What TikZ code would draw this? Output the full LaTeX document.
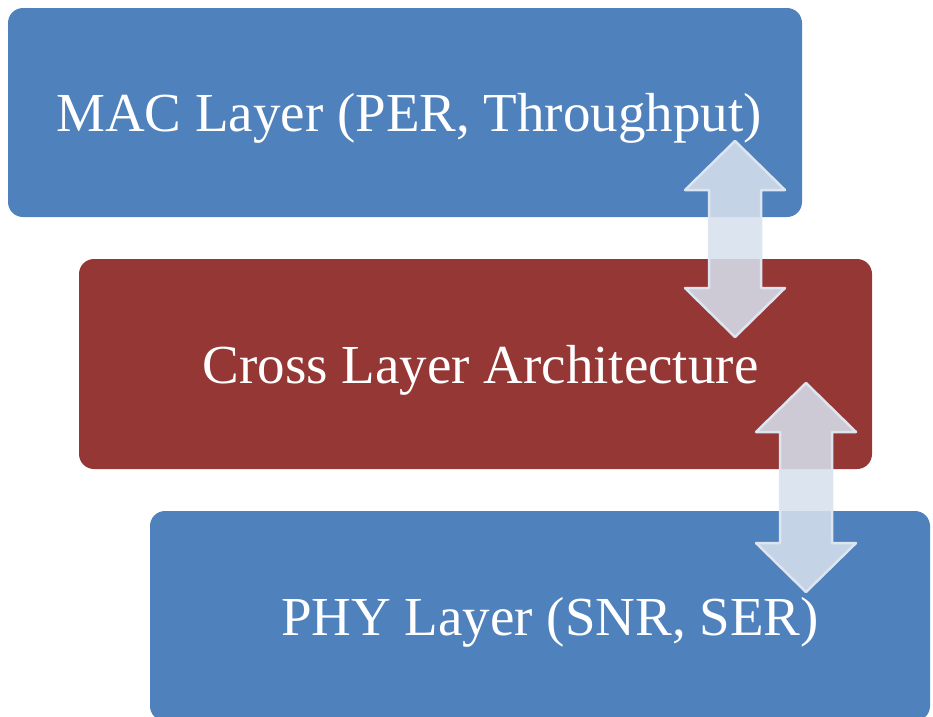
\documentclass[tikz,border=0pt]{standalone}
\usepackage{fontspec}
\setmainfont{Liberation Serif}
\usetikzlibrary{calc}

\definecolor{stratalbastru}{HTML}{4F81BD}
\definecolor{stratrosu}{HTML}{953735}
\definecolor{umplere}{HTML}{D6E0ED}
\definecolor{contur}{HTML}{DDE5F0}

\begin{document}
\begin{tikzpicture}[x=1pt,y=-1pt,
  strat/.style={rounded corners=15pt,text=white,inner sep=0pt,text depth=0pt,
    font=\fontsize{55}{66}\selectfont},
  dublasageata/.style={fill=umplere,fill opacity=0.87,draw=contur,
    line width=2.5pt,line join=round}]
  \useasboundingbox (0,0) rectangle (933,716);

  % straturile
  \node[strat,fill=stratalbastru,minimum width=794pt,minimum height=209pt] (mac) at (405,112.5) {\hspace*{8pt}MAC Layer (PER, Throughput)};
  \node[strat,fill=stratrosu,minimum width=793pt,minimum height=210pt] (cross) at (475.5,364) {\hspace*{10pt}Cross Layer Architecture};
  \node[strat,fill=stratalbastru,minimum width=780pt,minimum height=210pt] (phy) at (540,616) {\hspace*{20pt}PHY Layer (SNR, SER)};

  % capetele sagetilor
  \coordinate (s1sus) at (735,141);
  \coordinate (s1jos) at (735,337);
  \coordinate (s2sus) at (806,383);
  \coordinate (s2jos) at (806,592);

  % sagetile duble
  \foreach \sus/\jos in {s1sus/s1jos,s2sus/s2jos}
    \draw[dublasageata] (\sus) -- ++(50,49) -- ++(-24,0) -- ($(\jos)+(26,-49)$) -- ++(24,0)
      -- (\jos) -- ++(-50,-49) -- ++(24,0) -- ($(\sus)+(-26,49)$) -- ++(-24,0) -- cycle;
\end{tikzpicture}
\end{document}
